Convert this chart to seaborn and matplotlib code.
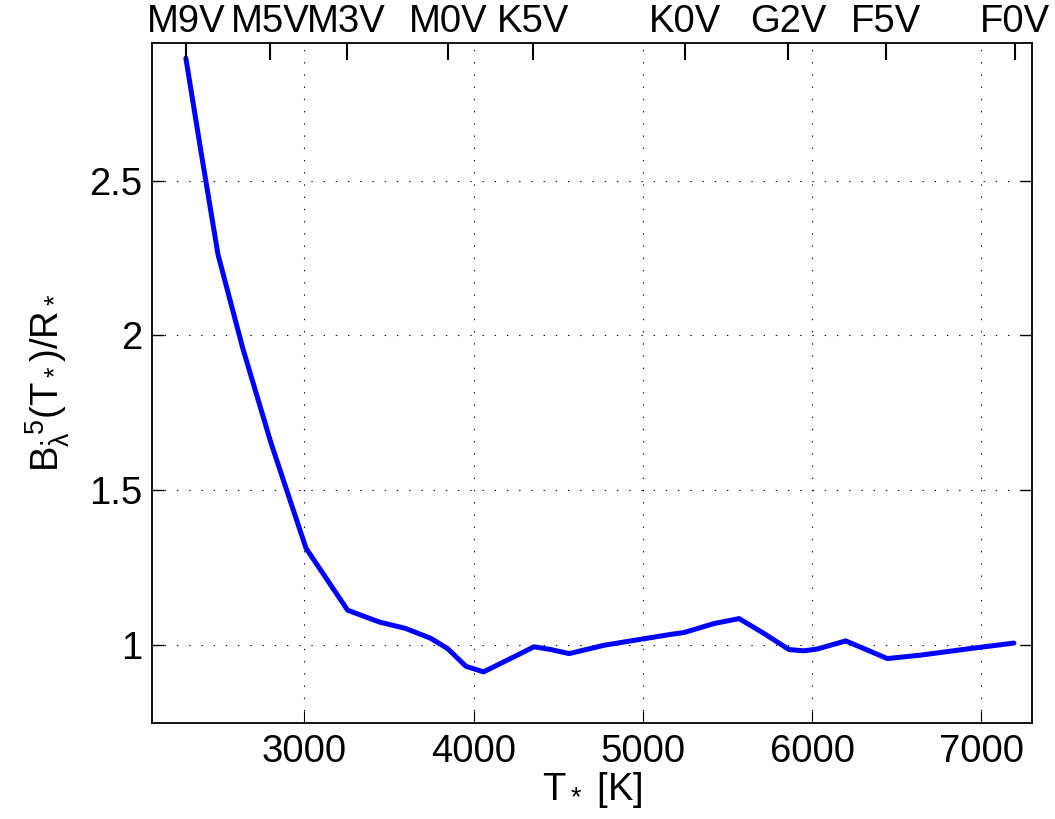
import matplotlib
matplotlib.use("Agg")
import matplotlib.pyplot as plt
import seaborn as sns
import pandas as pd

# Data
temps = [2300, 2390, 2490, 2636, 2803, 3010, 3256, 3443, 3600, 3748, 3847, 3955,
         4059, 4358, 4457, 4565, 4772, 5165, 5244, 5421, 5569, 5716, 5864, 5953,
         6032, 6199, 6445, 6641, 6917, 7193]
values = [2.895, 2.591, 2.261, 1.959, 1.653, 1.313, 1.113, 1.075, 1.054, 1.022, 0.989, 0.932,
          0.914, 0.995, 0.986, 0.973, 1.000, 1.035, 1.041, 1.070, 1.086, 1.038, 0.986, 0.982,
          0.988, 1.014, 0.957, 0.968, 0.988, 1.007]

spec_types = ["M9V", "M5V", "M3V", "M0V", "K5V", "K0V", "G2V", "F5V", "F0V"]
spec_temps = [2300, 2800, 3250, 3850, 4350, 5250, 5860, 6440, 7200]

x_ticks = [3000, 4000, 5000, 6000, 7000]
y_ticks = [1, 1.5, 2, 2.5]
y_tick_labels = ["1", "1.5", "2", "2.5"]

sns.set_style("white")
plt.rcParams["font.family"] = ["Liberation Sans", "DejaVu Sans"]
plt.rcParams["mathtext.fontset"] = "custom"
plt.rcParams["mathtext.rm"] = "Liberation Sans"
plt.rcParams["mathtext.it"] = "Liberation Sans"
plt.rcParams["mathtext.bf"] = "Liberation Sans:bold"
plt.rcParams["text.color"] = "black"
plt.rcParams["axes.labelcolor"] = "black"
plt.rcParams["xtick.color"] = "black"
plt.rcParams["ytick.color"] = "black"

df = pd.DataFrame({"T": temps, "v": values})

fig = plt.figure(figsize=(10.55, 8.19), dpi=100)
ax = fig.add_axes([0.1441, 0.1176, 0.8341, 0.8303])

sns.lineplot(data=df, x="T", y="v", ax=ax, color=(0, 0, 1), linewidth=3.6,
             estimator=None, sort=False)

ax.set_xlim(2100, 7300)
ax.set_ylim(0.75, 2.945)
ax.set_xticks(x_ticks)
ax.set_xticklabels([str(t) for t in x_ticks])
ax.set_yticks(y_ticks)
ax.set_yticklabels(y_tick_labels)

ax.grid(True, color="black", linewidth=0.8, linestyle=(0, (1.2, 9.8)))

fs = 27.5
ax.tick_params(axis="x", direction="in", length=8.5, width=0.8, top=True,
               bottom=True, labelsize=fs, pad=8, colors="black")
ax.tick_params(axis="y", direction="in", length=8.5, width=1.0, left=True,
               right=True, labelsize=fs, pad=7, colors="black")
for sp in ax.spines.values():
    sp.set_linewidth(1.3)
    sp.set_color("black")
    sp.set_visible(True)

ax.set_xlabel(r"T$_*$ [K]", fontsize=fs, labelpad=0, color="black")
ax.set_ylabel(r"B$_\lambda^{.5}$(T$_*$)/R$_*$", fontsize=fs, labelpad=12, color="black")

ax2 = ax.twiny()
ax2.set_xlim(ax.get_xlim())
ax2.set_xticks(spec_temps)
ax2.set_xticklabels(spec_types)
ax2.tick_params(axis="x", direction="in", length=12, width=1.5, top=True,
                bottom=False, labeltop=True, labelbottom=False, labelsize=fs,
                pad=2, colors="black")
ax2.grid(False)
for sp in ax2.spines.values():
    sp.set_visible(False)

fig.savefig("out.png", dpi=100)
